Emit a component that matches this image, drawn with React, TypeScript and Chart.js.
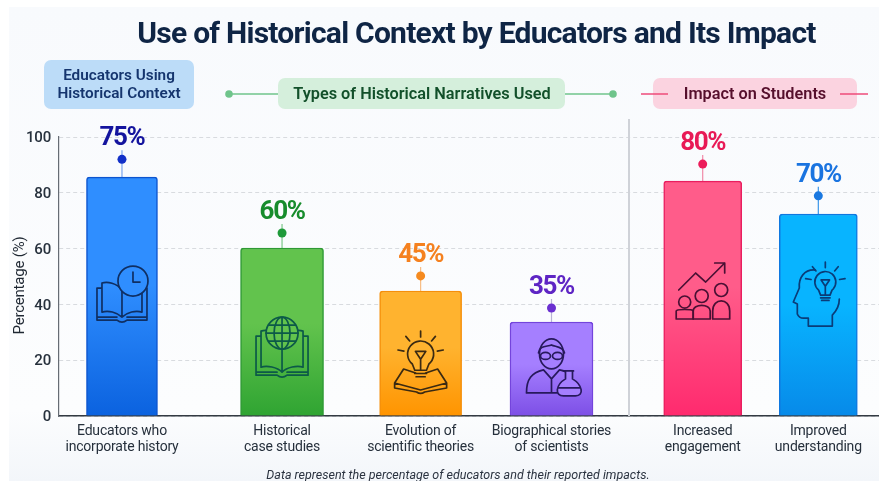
import React, { useEffect, useRef } from "react";
import { Chart, registerables } from "chart.js";

Chart.register(...registerables);

const categories = [
  ["Educators who", "incorporate history"],
  ["Historical", "case studies"],
  ["Evolution of", "scientific theories"],
  ["Biographical stories", "of scientists"],
  ["Increased", "engagement"],
  ["Improved", "understanding"],
];
const slots = [7.68, 27.2, 44.1, 60.06, 78.5, 92.6];
const barValues = [85.6, 60.2, 44.8, 33.7, 84.2, 72.4];
const markerValues = [92, 65.6, 50.2, 38.7, 90.3, 78.9];
const percentLabels = ["75%", "60%", "45%", "35%", "80%", "70%"];

const barWidths = [71, 83, 82, 83, 78, 78];
const iconLevels = [43.7, 25.4, 19, 17.6, 44.8, 43];
const gradTop = ["#2f8eff", "#62c34d", "#ffb32f", "#a57fff", "#ff5c8a", "#08b4ff"];
const gradBottom = ["#0b62df", "#2fa432", "#ff9400", "#7d4fe6", "#ff2a6e", "#078ae9"];
const barEdges = ["#0d55cf", "#2f9a35", "#f58f0a", "#7444dc", "#e91e5f", "#0f78e0"];
const labelColors = ["#14149e", "#178c2c", "#f5811f", "#5e25c4", "#e81a56", "#1a74e0"];
const dotColors = ["#1230c8", "#1f9a3a", "#f58a1f", "#6a2fd0", "#ec1c5a", "#1a78e0"];
const stemColors = ["#7aa5ee", "#7cc68a", "#f7bd85", "#b9b3d6", "#f08aa8", "#3a96ea"];
const iconColors = ["#0f2f63", "#0c5a48", "#3b2a12", "#27195c", "#4a1034", "#0a3c78"];

const FONT = "Roboto, 'Noto Sans', sans-serif";

type C = CanvasRenderingContext2D;

function path(ctx: C, fn: () => void, fill?: string) {
  ctx.beginPath();
  fn();
  if (fill) {
    ctx.fillStyle = fill;
    ctx.fill();
  }
  ctx.stroke();
}

function book(ctx: C, top: number, bottom: number, hw: number) {
  const inner = hw - 5;
  path(ctx, () => {
    ctx.moveTo(0, top + 8);
    ctx.bezierCurveTo(-5, top + 1, -inner + 5, top - 1, -inner, top + 1);
    ctx.lineTo(-inner, bottom - 8);
    ctx.bezierCurveTo(-inner + 6, bottom - 10, -5, bottom - 8, 0, bottom - 3);
    ctx.bezierCurveTo(5, bottom - 8, inner - 6, bottom - 10, inner, bottom - 8);
    ctx.lineTo(inner, top + 1);
    ctx.bezierCurveTo(inner - 5, top - 1, 5, top + 1, 0, top + 8);
    ctx.moveTo(0, top + 8);
    ctx.lineTo(0, bottom - 3);
    ctx.moveTo(-inner, top + 6);
    ctx.lineTo(-hw, top + 6);
    ctx.lineTo(-hw, bottom);
    ctx.lineTo(-5, bottom);
    ctx.quadraticCurveTo(0, bottom + 4, 5, bottom);
    ctx.lineTo(hw, bottom);
    ctx.lineTo(hw, top + 6);
    ctx.lineTo(inner, top + 6);
    ctx.moveTo(-hw, bottom - 3);
    ctx.lineTo(-5, bottom - 3);
    ctx.moveTo(5, bottom - 3);
    ctx.lineTo(hw, bottom - 3);
  });
}

function rays(ctx: C, cx: number, cy: number, r0: number, r1: number) {
  path(ctx, () => {
    [-170, -130, -90, -50, -10].forEach((deg) => {
      const a = (deg * Math.PI) / 180;
      ctx.moveTo(cx + Math.cos(a) * r0, cy + Math.sin(a) * r0);
      ctx.lineTo(cx + Math.cos(a) * r1, cy + Math.sin(a) * r1);
    });
  });
}

function bulb(ctx: C, cx: number, cy: number, r: number, fill?: string) {
  path(ctx, () => {
    ctx.arc(cx, cy, r, Math.PI * 0.72, Math.PI * 0.28);
    ctx.lineTo(cx + r * 0.45, cy + r * 1.25);
    ctx.lineTo(cx - r * 0.45, cy + r * 1.25);
    ctx.closePath();
  }, fill);
  path(ctx, () => {
    ctx.moveTo(cx - r * 0.4, cy - r * 0.2);
    ctx.lineTo(cx, cy + r * 0.4);
    ctx.lineTo(cx + r * 0.4, cy - r * 0.2);
    ctx.closePath();
    ctx.moveTo(cx, cy + r * 0.4);
    ctx.lineTo(cx, cy + r * 1.2);
    ctx.moveTo(cx - r * 0.45, cy + r * 1.5);
    ctx.lineTo(cx + r * 0.45, cy + r * 1.5);
    ctx.moveTo(cx - r * 0.35, cy + r * 1.75);
    ctx.lineTo(cx + r * 0.35, cy + r * 1.75);
  });
}

function person(ctx: C, x: number, headY: number, r: number, base: number, w: number) {
  path(ctx, () => {
    ctx.arc(x, headY, r, 0, Math.PI * 2);
    ctx.moveTo(x - w, base);
    ctx.lineTo(x - w, base - 8);
    ctx.bezierCurveTo(x - w, headY + r + 1, x + w, headY + r + 1, x + w, base - 8);
    ctx.lineTo(x + w, base);
    ctx.closePath();
  });
}

const icons: ((ctx: C, fill: string) => void)[] = [
  (ctx, fill) => {
    book(ctx, -12, 26, 25);
    path(ctx, () => ctx.arc(11, -13, 15, 0, Math.PI * 2), fill);
    path(ctx, () => {
      ctx.moveTo(11, -22);
      ctx.lineTo(11, -12);
      ctx.lineTo(18, -12);
    });
  },
  (ctx, fill) => {
    book(ctx, -15, 30, 26);
    path(ctx, () => ctx.arc(0, -12, 16, 0, Math.PI * 2), fill);
    path(ctx, () => {
      ctx.ellipse(0, -12, 8, 16, 0, 0, Math.PI * 2);
      ctx.moveTo(0, -28);
      ctx.lineTo(0, 4);
      ctx.moveTo(-16, -12);
      ctx.lineTo(16, -12);
      ctx.moveTo(-13.5, -20);
      ctx.lineTo(13.5, -20);
      ctx.moveTo(-13.5, -4);
      ctx.lineTo(13.5, -4);
    });
  },
  (ctx, fill) => {
    path(ctx, () => {
      ctx.moveTo(0, 27);
      ctx.lineTo(-26, 20);
      ctx.lineTo(-17, 6);
      ctx.lineTo(-5, 10);
      ctx.moveTo(0, 27);
      ctx.lineTo(26, 20);
      ctx.lineTo(17, 6);
      ctx.lineTo(5, 10);
      ctx.moveTo(-26, 20);
      ctx.lineTo(-26, 25);
      ctx.lineTo(-4, 29);
      ctx.quadraticCurveTo(0, 32, 4, 29);
      ctx.lineTo(26, 25);
      ctx.lineTo(26, 20);
    });
    bulb(ctx, 0, -9, 13, fill);
    rays(ctx, 0, -9, 17, 23);
  },
  (ctx, fill) => {
    path(ctx, () => {
      ctx.moveTo(-25, 26);
      ctx.bezierCurveTo(-25, 12, -20, 6, -8, 3);
      ctx.lineTo(0, 12);
      ctx.lineTo(8, 3);
      ctx.bezierCurveTo(14, 4, 18, 7, 19, 10);
      ctx.moveTo(-25, 26);
      ctx.lineTo(9, 26);
      ctx.moveTo(0, 12);
      ctx.lineTo(0, 26);
    });
    path(ctx, () => ctx.ellipse(0, -13, 12, 15, 0, 0, Math.PI * 2), fill);
    path(ctx, () => {
      ctx.moveTo(-13, -14);
      ctx.bezierCurveTo(-12, -22, -4, -20, 0, -22);
      ctx.bezierCurveTo(4, -20, 12, -20, 13, -14);
      ctx.moveTo(-1, -11);
      ctx.ellipse(-6, -11, 5, 3.5, 0, 0, Math.PI * 2);
      ctx.moveTo(11, -11);
      ctx.ellipse(6, -11, 5, 3.5, 0, 0, Math.PI * 2);
    });
    path(ctx, () => {
      ctx.moveTo(12, 4);
      ctx.lineTo(22, 4);
      ctx.moveTo(14, 4);
      ctx.lineTo(14, 12);
      ctx.bezierCurveTo(4, 18, 3, 29, 12, 29);
      ctx.lineTo(24, 29);
      ctx.bezierCurveTo(33, 29, 31, 18, 21, 12);
      ctx.lineTo(21, 4);
      ctx.moveTo(7, 21);
      ctx.lineTo(28, 21);
    }, fill);
  },
  (ctx) => {
    path(ctx, () => {
      ctx.moveTo(-24, -1);
      ctx.lineTo(-7, -18);
      ctx.lineTo(3, -9);
      ctx.lineTo(22, -28);
      ctx.moveTo(12, -28);
      ctx.lineTo(22, -28);
      ctx.lineTo(22, -18);
    });
    person(ctx, -18, 11, 6, 28, 8.5);
    person(ctx, -1, 5, 6.5, 28, 8.5);
    person(ctx, 18.5, -1, 6.5, 28, 8.5);
  },
  (ctx, fill) => {
    path(ctx, () => {
      ctx.moveTo(-3, -26);
      ctx.bezierCurveTo(-14, -27, -20, -18, -19, -8);
      ctx.lineTo(-25, 6);
      ctx.lineTo(-21, 8);
      ctx.lineTo(-21, 18);
      ctx.quadraticCurveTo(-19, 23, -13, 22);
      ctx.lineTo(-10, 22);
      ctx.lineTo(-10, 30);
      ctx.lineTo(14, 30);
      ctx.lineTo(14, 19);
      ctx.bezierCurveTo(19, 14, 21, 8, 21, 3);
    });
    bulb(ctx, 7, -14, 10.5, fill);
    rays(ctx, 7, -14, 14.5, 20);
  },
];

function roundBox(ctx: C, x: number, y: number, w: number, h: number, r: number, fill: string) {
  ctx.beginPath();
  ctx.roundRect(x, y, w, h, r);
  ctx.fillStyle = fill;
  ctx.fill();
}

function text(ctx: C, s: string, x: number, y: number, font: string, color: string) {
  ctx.font = font;
  ctx.fillStyle = color;
  ctx.textAlign = "center";
  ctx.textBaseline = "middle";
  ctx.fillText(s, x, y);
}

function connector(ctx: C, x0: number, x1: number, y: number, color: string, dotX?: number) {
  ctx.strokeStyle = color;
  ctx.lineWidth = 1.5;
  ctx.beginPath();
  ctx.moveTo(x0, y);
  ctx.lineTo(x1, y);
  ctx.stroke();
  if (dotX !== undefined) {
    ctx.beginPath();
    ctx.arc(dotX, y, 3.8, 0, Math.PI * 2);
    ctx.fillStyle = color;
    ctx.fill();
  }
}

const decor = {
  id: "decor",
  afterLayout(chart: any) {
    const block = chart.titleBlock;
    if (block) {
      block.left = 74;
      block.right = 879;
      if (!block.__tight) {
        block.__tight = true;
        const draw = block.draw;
        block.draw = function (...args: any[]) {
          const ctx: any = chart.ctx;
          const prev = ctx.letterSpacing;
          ctx.letterSpacing = "-0.75px";
          draw.apply(this, args);
          ctx.letterSpacing = prev;
        };
      }
    }
    const ys = chart.scales.y;
    if (ys && !ys.__titleShift) {
      ys.__titleShift = true;
      const drawTitle = ys.drawTitle;
      ys.drawTitle = function (...args: any[]) {
        this.bottom += 18;
        drawTitle.apply(this, args);
        this.bottom -= 18;
      };
    }
  },
  beforeDraw(chart: any) {
    const ctx: any = chart.ctx;
    ctx.save();
    ctx.fillStyle = "#ffffff";
    ctx.fillRect(0, 0, 879, 481);
    const g = ctx.createLinearGradient(0, 7, 0, 481);
    g.addColorStop(0, "#f8fafd");
    g.addColorStop(0.85, "#fcfdfe");
    g.addColorStop(1, "#f3f6fa");
    ctx.fillStyle = g;
    ctx.fillRect(9, 7, 870, 474);

    roundBox(ctx, 44, 60, 150, 49, 7, "#bcdcf8");
    text(ctx, "Educators Using", 119, 76, `600 15.3px ${FONT}`, "#15356e");
    text(ctx, "Historical Context", 119, 94, `600 15.3px ${FONT}`, "#15356e");

    connector(ctx, 229, 278, 94, "#6fc48b", 229);
    connector(ctx, 565, 613, 94, "#6fc48b", 613);
    roundBox(ctx, 278, 78, 287, 31, 7, "#d5efdc");
    text(ctx, "Types of Historical Narratives Used", 422, 95, `600 16.3px ${FONT}`, "#12502a");

    roundBox(ctx, 653, 78, 204, 31, 7, "#fbd3e0");
    connector(ctx, 641, 668, 94, "#ee4b7a");
    connector(ctx, 840, 868, 94, "#ee4b7a");
    text(ctx, "Impact on Students", 755, 95, `600 16.3px ${FONT}`, "#560f2c");
    ctx.restore();
    ctx.letterSpacing = "-0.2px";
  },
  beforeDatasetsDraw(chart: any) {
    const ctx: any = chart.ctx;
    ctx.letterSpacing = "0px";
    const { x, y } = chart.scales;
    ctx.save();
    ctx.strokeStyle = "#cfd2d8";
    ctx.lineWidth = 2;
    ctx.beginPath();
    ctx.moveTo(629, 119);
    ctx.lineTo(629, y.bottom);
    ctx.stroke();
    ctx.lineWidth = 1.2;
    slots.forEach((s, i) => {
      const px = x.getPixelForValue(s);
      ctx.strokeStyle = stemColors[i];
      ctx.beginPath();
      ctx.moveTo(px, y.getPixelForValue(barValues[i]));
      ctx.lineTo(px, y.getPixelForValue(markerValues[i]) - 9);
      ctx.stroke();
    });
    ctx.restore();
  },
  afterDatasetsDraw(chart: any) {
    const ctx: any = chart.ctx;
    const { x, y } = chart.scales;
    slots.forEach((s, i) => {
      const px = x.getPixelForValue(s);
      const py = y.getPixelForValue(markerValues[i]);
      ctx.save();
      ctx.letterSpacing = "-1.4px";
      text(ctx, percentLabels[i], px, py - 20.5, `700 26px ${FONT}`, labelColors[i]);
      ctx.letterSpacing = "0px";
      ctx.translate(px, y.getPixelForValue(iconLevels[i]));
      ctx.strokeStyle = iconColors[i];
      ctx.lineWidth = 1.7;
      ctx.lineJoin = "round";
      ctx.lineCap = "round";
      icons[i](ctx, gradTop[i]);
      ctx.restore();
    });
    ctx.save();
    text(ctx, "Data represent the percentage of educators and their reported impacts.", 458, 476, `italic 12.5px ${FONT}`, "#2b3340");
    ctx.restore();
  },
};

export default function App() {
  const ref = useRef<HTMLCanvasElement>(null);
  useEffect(() => {
    const barSets: any[] = slots.map((s, i) => ({
      type: "bar",
      label: categories[i].join(" "),
      data: [{ x: s, y: barValues[i] }],
      barThickness: barWidths[i],
      grouped: false,
      order: 2,
      borderColor: barEdges[i],
      borderWidth: { top: 1.5, left: 1.5, right: 1.5, bottom: 0 },
      borderRadius: { topLeft: 3, topRight: 3, bottomLeft: 0, bottomRight: 0 },
      borderSkipped: false,
      backgroundColor: (c: any) => {
        const a = c.chart.chartArea;
        const sc = c.chart.scales.y;
        if (!a || !sc) return gradTop[i];
        const g = c.chart.ctx.createLinearGradient(0, sc.getPixelForValue(barValues[i]), 0, sc.bottom);
        g.addColorStop(0, gradTop[i]);
        g.addColorStop(0.45, gradTop[i]);
        g.addColorStop(1, gradBottom[i]);
        return g;
      },
    }));
    const markers: any = {
      type: "scatter",
      label: "Reported",
      data: slots.map((s, i) => ({ x: s, y: markerValues[i] })),
      pointRadius: 4.5,
      pointBackgroundColor: dotColors,
      pointBorderWidth: 0,
      showLine: false,
      order: 1,
    };
    const chart = new Chart(ref.current as HTMLCanvasElement, {
      type: "bar",
      data: { datasets: [...barSets, markers] },
      plugins: [decor],
      options: {
        responsive: false,
        animation: false,
        layout: { autoPadding: false, padding: 0 },
        plugins: {
          legend: { display: false },
          tooltip: { enabled: false },
          title: {
            display: true,
            text: "Use of Historical Context by Educators and Its Impact",
            color: "#0f2545",
            font: { family: FONT, size: 30, weight: "bold", lineHeight: 1.2 },
            padding: { top: 17, bottom: 84 },
          },
        },
        scales: {
          x: {
            type: "linear",
            min: 0,
            max: 100,
            offset: false,
            grid: { display: false },
            border: { color: "#333a42", width: 1.6 },
            afterBuildTicks: (axis: any) => {
              axis.ticks = slots.map((v) => ({ value: v }));
            },
            afterFit: (axis: any) => {
              axis.height = 65;
            },
            ticks: {
              autoSkip: false,
              maxRotation: 0,
              padding: 0,
              color: "#26303c",
              font: { family: FONT, size: 14, lineHeight: 1.14 },
              callback: (v: any) => categories[slots.indexOf(v)] ?? "",
            },
          },
          y: {
            min: 0,
            max: 100,
            afterFit: (axis: any) => {
              axis.width = 59;
            },
            grid: { color: "#d8dbdf", lineWidth: 1, drawTicks: false },
            border: { color: "#666c74", width: 1.2, dash: [4, 3] },
            ticks: {
              stepSize: 20,
              padding: 8,
              labelOffset: 1.5,
              color: "#26303c",
              font: { family: FONT, size: 15, weight: "500" },
            },
            title: {
              display: true,
              text: "Percentage (%)",
              color: "#1f2833",
              font: { family: FONT, size: 15 },
              padding: { top: 11, bottom: 0 },
            },
          },
        },
      } as any,
    });
    return () => chart.destroy();
  }, []);
  return (
    <div style={{ position: "fixed", left: 0, top: 0, width: 879, height: 481 }}>
      <canvas ref={ref} width={879} height={481} style={{ display: "block" }} />
    </div>
  );
}
